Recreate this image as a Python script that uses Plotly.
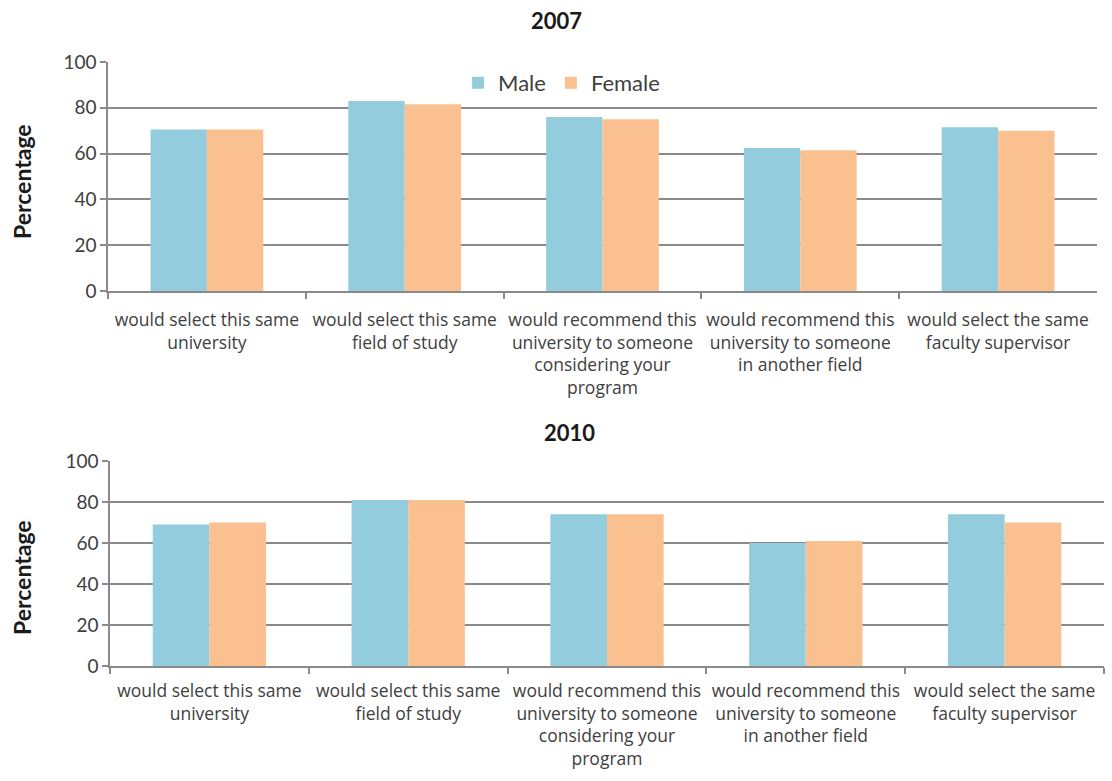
import plotly.graph_objects as go

categories = [
    "would select this same<br>university",
    "would select this same<br>field of study",
    "would recommend this<br>university to someone<br>considering your<br>program",
    "would recommend this<br>university to someone<br>in another field",
    "would select the same<br>faculty supervisor",
]
male_2007 = [70.5, 83, 76, 62.5, 71.5]
female_2007 = [70.5, 81.5, 75, 61.5, 70]
male_2010 = [69, 81, 74, 60, 74]
female_2010 = [70, 81, 74, 61, 70]
y_ticks = [0, 20, 40, 60, 80, 100]

MALE = "#93CDDD"
FEMALE = "#FAC090"
GRID = "#8a8a8a"
TXT = "#404040"
FONT = "Lato, 'Open Sans', sans-serif"
CAT_FONT = "'Open Sans', sans-serif"

W, H = 1112, 781

fig = go.Figure()

panels = [
    ("x", "y", male_2007, female_2007, True),
    ("x2", "y2", male_2010, female_2010, False),
]
for xa, ya, m, f, show in panels:
    fig.add_trace(go.Bar(x=categories, y=m, name="Male", marker=dict(color=MALE, line=dict(width=0)),
                         xaxis=xa, yaxis=ya, showlegend=show, legendgroup="m"))
    fig.add_trace(go.Bar(x=categories, y=f, name="Female", marker=dict(color=FEMALE, line=dict(width=0)),
                         xaxis=xa, yaxis=ya, showlegend=show, legendgroup="f"))

xcommon = dict(showline=True, linecolor=GRID, linewidth=1.5, ticks="outside", tickson="boundaries",
               ticklen=6, tickcolor=GRID, tickwidth=1.5, showgrid=False, automargin=False,
               tickfont=dict(family=CAT_FONT, size=17.5, color=TXT), tickangle=0)
ycommon = dict(range=[0, 100], tickvals=y_ticks, showline=True, linecolor=GRID, linewidth=1.5,
               ticks="outside", ticklen=6, tickcolor=GRID, tickwidth=1.5, showgrid=True,
               gridcolor=GRID, gridwidth=1.5, zeroline=False, automargin=False,
               tickfont=dict(family=FONT, size=19, color=TXT))

fig.update_layout(
    width=W, height=H,
    margin=dict(l=0, r=0, t=0, b=0, autoexpand=False),
    paper_bgcolor="white", plot_bgcolor="white",
    barmode="group", bargap=0.43, bargroupgap=0,
    xaxis=dict(domain=[108 / W, 1097 / W], anchor="y", ticklabelstandoff=12, **xcommon),
    yaxis=dict(domain=[1 - 291 / H, 1 - 62 / H], anchor="x", **ycommon),
    xaxis2=dict(domain=[110 / W, 1104 / W], anchor="y2", ticklabelstandoff=8, **xcommon),
    yaxis2=dict(domain=[1 - 666 / H, 1 - 461 / H], anchor="x2", **ycommon),
    legend=dict(orientation="h", x=0.505, y=1 - 83 / H, xanchor="center", yanchor="middle",
                font=dict(family=FONT, size=22, color=TXT), bgcolor="rgba(0,0,0,0)",
                itemwidth=30, traceorder="normal"),
    annotations=[
        dict(text="<b>2007</b>", x=556 / W, y=1 - 20 / H, xref="paper", yref="paper",
             xanchor="center", yanchor="middle",
             showarrow=False, font=dict(family=FONT, size=22, color="#1a1a1a")),
        dict(text="<b>2010</b>", x=569 / W, y=1 - 432 / H, xref="paper", yref="paper",
             xanchor="center", yanchor="middle",
             showarrow=False, font=dict(family=FONT, size=22, color="#1a1a1a")),
        dict(text="<b>Percentage</b>", x=22 / W, y=1 - 182 / H, xref="paper", yref="paper",
             xanchor="center", yanchor="middle",
             textangle=-90, showarrow=False, font=dict(family=FONT, size=23, color="#1a1a1a")),
        dict(text="<b>Percentage</b>", x=22 / W, y=1 - 578 / H, xref="paper", yref="paper",
             xanchor="center", yanchor="middle",
             textangle=-90, showarrow=False, font=dict(family=FONT, size=23, color="#1a1a1a")),
    ],
)

fig.write_html("out.html")
